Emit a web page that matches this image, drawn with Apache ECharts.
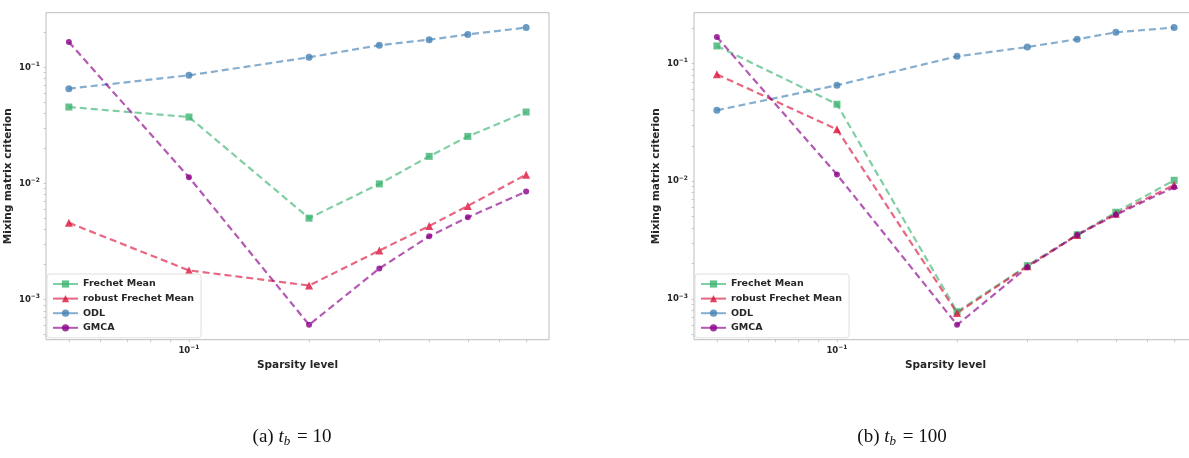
<!DOCTYPE html>
<html>
<head>
<meta charset="utf-8">
<script src="https://cdn.jsdelivr.net/npm/echarts@6/dist/echarts.min.js"></script>
<style>
html, body { margin: 0; padding: 0; background: #fff; overflow: hidden; }
#container { width: 1205px; height: 458px; }
</style>
</head>
<body>
<div id="container"></div>
<script>
var sparsity = [0.05, 0.1, 0.2, 0.3, 0.4, 0.5, 0.7];
var seriesNames = ['Frechet Mean', 'robust Frechet Mean', 'ODL', 'GMCA'];

// (a) t_b = 10
var frechetA = [0.0455, 0.0373, 0.00502, 0.0099, 0.0171, 0.0254, 0.0412];
var robustA  = [0.00458, 0.00178, 0.00132, 0.00264, 0.0043, 0.0064, 0.0119];
var odlA     = [0.0655, 0.0853, 0.122, 0.155, 0.173, 0.192, 0.220];
var gmcaA    = [0.165, 0.0113, 0.000605, 0.00185, 0.0035, 0.0051, 0.0085];

// (b) t_b = 100
var frechetB = [0.141, 0.0451, 0.00078, 0.00192, 0.00352, 0.00546, 0.0102];
var robustB  = [0.081, 0.0276, 0.00076, 0.0019, 0.0035, 0.0053, 0.0093];
var odlB     = [0.0401, 0.0654, 0.115, 0.138, 0.161, 0.184, 0.202];
var gmcaB    = [0.168, 0.0114, 0.000604, 0.00186, 0.0035, 0.0052, 0.0089];

var xMajorTicks = [0.1];
var yMajorTicks = [0.001, 0.01, 0.1];
var captions = ['(a)', '(b)'];
var captionValues = ['10', '100'];

var colors = ['#3cb371', '#dc143c', '#4682b4', '#8b008b'];
var symbols = ['rect', 'triangle', 'circle', 'circle'];
var symbolSizes = [7, 8, 7, 6];

var dom = document.getElementById('container');
var myChart = echarts.init(dom, null, { renderer: 'canvas' });

function log10(v) { return Math.log(v) / Math.LN10; }

// matplotlib-like 5% margin in log space
function logExtent(arrs) {
  var all = [].concat.apply([], arrs);
  var lo = log10(Math.min.apply(null, all));
  var hi = log10(Math.max.apply(null, all));
  var m = (hi - lo) * 0.05;
  return [Math.pow(10, lo - m), Math.pow(10, hi + m)];
}

// minor ticks 1..9 x 10^k inside the extent
function logTicks(ext) {
  var out = [];
  for (var e = Math.floor(log10(ext[0])); e <= Math.ceil(log10(ext[1])); e++) {
    for (var k = 1; k < 10; k++) {
      var v = k * Math.pow(10, e);
      if (v >= ext[0] && v <= ext[1]) out.push(v);
    }
  }
  return out;
}

function sciLabel(v) {
  var e = log10(v);
  var r = Math.round(e);
  if (Math.abs(e - r) > 1e-6) return '';
  return '{b|10}{s|\u2212' + Math.abs(r) + '}';
}

var labelRich = {
  b: { fontSize: 8.5, fontWeight: 'bold', color: '#262626', fontFamily: 'DejaVu Sans' },
  s: { fontSize: 6, fontWeight: 'bold', color: '#262626', fontFamily: 'DejaVu Sans', padding: [0, 0, 6, 0] }
};

var plots = [
  { left: 46, caption: 292, data: [frechetA, robustA, odlA, gmcaA] },
  { left: 694, caption: 902, data: [frechetB, robustB, odlB, gmcaB] }
];

var xExt = logExtent([sparsity]);

var option = {
  animation: false,
  backgroundColor: '#fff',
  grid: [],
  xAxis: [],
  yAxis: [],
  legend: [],
  series: [],
  graphic: []
};

plots.forEach(function (p, gi) {
  var yExt = logExtent(p.data);
  option.grid.push({
    left: p.left, top: 12.7, width: 503, height: 327,
    show: true, borderColor: '#bdbdbd', borderWidth: 1, backgroundColor: 'transparent'
  });
  option.xAxis.push({
    type: 'log', logBase: 10, gridIndex: gi,
    min: xExt[0], max: xExt[1],
    name: 'Sparsity level', nameLocation: 'middle', nameGap: 17,
    nameTextStyle: { fontSize: 10.5, fontWeight: 'bold', color: '#262626', fontFamily: 'DejaVu Sans' },
    axisLine: { show: false },
    splitLine: { show: false },
    axisTick: { show: true, length: 2.5, lineStyle: { color: '#bdbdbd', width: 0.8 }, customValues: logTicks(xExt) },
    axisLabel: { margin: 5, customValues: xMajorTicks, formatter: sciLabel, rich: labelRich }
  });
  option.yAxis.push({
    type: 'log', logBase: 10, gridIndex: gi,
    min: yExt[0], max: yExt[1],
    name: 'Mixing matrix criterion', nameLocation: 'middle', nameGap: 32,
    nameTextStyle: { fontSize: 10.5, fontWeight: 'bold', color: '#262626', fontFamily: 'DejaVu Sans' },
    axisLine: { show: false },
    splitLine: { show: false },
    axisTick: { show: true, length: 2.5, lineStyle: { color: '#bdbdbd', width: 0.8 }, customValues: logTicks(yExt) },
    axisLabel: { margin: 6, customValues: yMajorTicks, formatter: sciLabel, rich: labelRich }
  });
  option.legend.push({
    data: seriesNames,
    orient: 'vertical',
    left: p.left + 1, top: 274,
    padding: [5, 7, 5, 5],
    itemGap: 4.6,
    itemWidth: 25, itemHeight: 9,
    backgroundColor: 'rgba(255,255,255,0.85)',
    borderColor: '#e0e0e0', borderWidth: 1, borderRadius: 3,
    lineStyle: { type: 'solid' },
    textStyle: { fontSize: 9.5, fontWeight: 'bold', color: '#262626', fontFamily: 'DejaVu Sans' },
    selectedMode: false
  });
  p.data.forEach(function (vals, si) {
    option.series.push({
      name: seriesNames[si],
      type: 'line',
      xAxisIndex: gi, yAxisIndex: gi,
      data: sparsity.map(function (x, i) { return [x, vals[i]]; }),
      symbol: symbols[si],
      symbolSize: symbolSizes[si],
      showSymbol: true,
      color: colors[si],
      lineStyle: { color: colors[si], width: 2.2, type: [7, 4], opacity: 0.65 },
      itemStyle: { color: colors[si], opacity: 0.8 },
      emphasis: { disabled: true }
    });
  });
  option.graphic.push({
    type: 'text',
    x: p.caption, y: 437,
    style: {
      text: '{n|' + captions[gi] + ' }{i|t}{sub|b}{n| = ' + captionValues[gi] + '}',
      align: 'center', verticalAlign: 'middle',
      rich: {
        n: { fontSize: 19, fontFamily: 'Liberation Serif', fill: '#111' },
        i: { fontSize: 19, fontFamily: 'Liberation Serif', fontStyle: 'italic', fill: '#111' },
        sub: { fontSize: 13, fontFamily: 'Liberation Serif', fontStyle: 'italic', fill: '#111', padding: [9, 2, 0, 0] }
      }
    }
  });
});

if (option && typeof option === 'object') {
  myChart.setOption(option);
}

window.addEventListener('resize', myChart.resize);
</script>
</body>
</html>
